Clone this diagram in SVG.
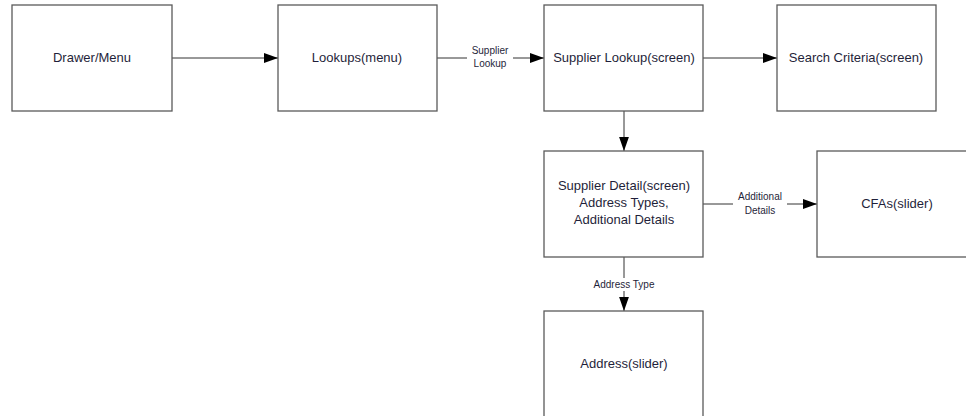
<svg xmlns="http://www.w3.org/2000/svg" width="966" height="416" viewBox="0 0 966 416">
<style>
.box{fill:#fff;stroke:#5a5a5a;stroke-width:1.3}
.t{font-family:"Liberation Sans",Arial,sans-serif;font-size:13px;fill:#1f1f3a;text-anchor:middle}
.s{font-family:"Liberation Sans",Arial,sans-serif;font-size:10px;fill:#1f1f3a;text-anchor:middle}
.c{stroke:#333;stroke-width:1;fill:none;marker-end:url(#ah)}
</style>
<defs>
<marker id="ah" viewBox="0 0 10 10" refX="10" refY="5" markerWidth="14" markerHeight="14" markerUnits="userSpaceOnUse" orient="auto">
<path d="M0,1.5 L10,5 L0,8.5 Z" fill="#000"/>
</marker>
</defs>
<rect width="966" height="416" fill="#fff"/>
<g id="connectors">
<path class="c" d="M172,58 L278,58"/>
<path class="c" d="M437,58 L544,58"/>
<path class="c" d="M703,58 L777,58"/>
<path class="c" d="M624,111 L624,151"/>
<path class="c" d="M703,204 L817,204"/>
<path class="c" d="M624,257 L624,311"/>
<rect x="467" y="42" width="46" height="28" fill="#fff"/>
<text class="s" x="490" y="54">Supplier</text>
<text class="s" x="490" y="67">Lookup</text>
<rect x="733" y="190" width="54" height="28" fill="#fff"/>
<text class="s" x="760" y="200">Additional</text>
<text class="s" x="760" y="214">Details</text>
<rect x="590" y="278" width="68" height="13" fill="#fff"/>
<text class="s" x="624" y="288">Address Type</text>
</g>
<g id="drawer"><rect class="box" x="12" y="5" width="160" height="106"/><text class="t" x="92" y="62">Drawer/Menu</text></g>
<g id="lookups"><rect class="box" x="278" y="5" width="159" height="106"/><text class="t" x="357" y="62">Lookups(menu)</text></g>
<g id="supplierLookup"><rect class="box" x="544" y="5" width="159" height="106"/><text class="t" x="624" y="62">Supplier Lookup(screen)</text></g>
<g id="searchCriteria"><rect class="box" x="777" y="5" width="159" height="106"/><text class="t" x="856" y="62">Search Criteria(screen)</text></g>
<g id="supplierDetail"><rect class="box" x="544" y="151" width="159" height="106"/>
<text class="t" x="624" y="190">Supplier Detail(screen)</text>
<text class="t" x="624" y="207">Address Types,</text>
<text class="t" x="624" y="224">Additional Details</text></g>
<g id="cfas"><rect class="box" x="817" y="151" width="160" height="106"/><text class="t" x="897" y="208">CFAs(slider)</text></g>
<g id="address"><rect class="box" x="544" y="311" width="159" height="110"/><text class="t" x="624" y="368">Address(slider)</text></g>
</svg>
